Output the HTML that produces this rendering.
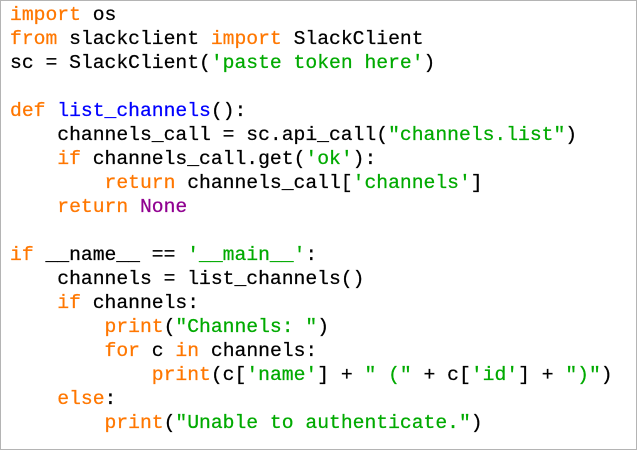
<!DOCTYPE html>
<html><head><style>
html,body{margin:0;padding:0;background:#fff;}
#w{position:absolute;left:0;top:0;width:635px;height:448px;border:1px solid #b4b4b4;background:#fff;overflow:hidden;}
pre{margin:0;position:absolute;left:9px;top:2px;font-family:"Liberation Mono",monospace;font-size:19.7px;line-height:24px;color:#000;-webkit-text-stroke:0.25px currentColor;}
.k{color:#ff7700}.s{color:#00aa00}.f{color:#0000ff}.n{color:#900090}
</style></head><body><div id="w"><pre><span class="k">import</span> os
<span class="k">from</span> slackclient <span class="k">import</span> SlackClient
sc = SlackClient(<span class="s">'paste token here'</span>)

<span class="k">def</span> <span class="f">list_channels</span>():
    channels_call = sc.api_call(<span class="s">"channels.list"</span>)
    <span class="k">if</span> channels_call.get(<span class="s">'ok'</span>):
        <span class="k">return</span> channels_call[<span class="s">'channels'</span>]
    <span class="k">return</span> <span class="n">None</span>

<span class="k">if</span> __name__ == <span class="s">'__main__'</span>:
    channels = list_channels()
    <span class="k">if</span> channels:
        <span class="k">print</span>(<span class="s">"Channels: "</span>)
        <span class="k">for</span> c <span class="k">in</span> channels:
            <span class="k">print</span>(c[<span class="s">'name'</span>] + <span class="s">" ("</span> + c[<span class="s">'id'</span>] + <span class="s">")"</span>)
    <span class="k">else</span>:
        <span class="k">print</span>(<span class="s">"Unable to authenticate."</span>)
</pre></div></body></html>
